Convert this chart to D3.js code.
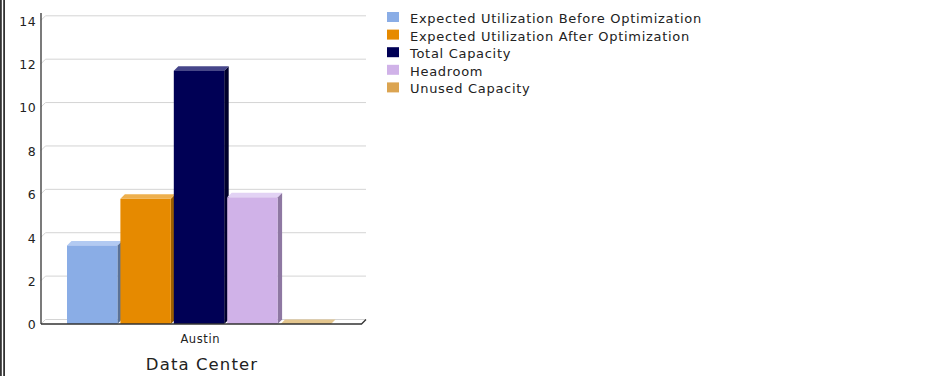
<!DOCTYPE html>
<html>
<head>
<meta charset="utf-8">
<script src="https://cdn.jsdelivr.net/npm/d3@7"></script>
<style>
  html, body { margin: 0; padding: 0; background: #fff; }
  svg { display: block; font-family: "DejaVu Sans", sans-serif; }
</style>
</head>
<body>
<div id="chart"></div>
<script>
(function () {
    // data
    const categories = ["Austin"];
    const seriesNames = [
        "Expected Utilization Before Optimization",
        "Expected Utilization After Optimization",
        "Total Capacity",
        "Headroom",
        "Unused Capacity"
    ];
    const seriesValues = [3.62, 5.77, 11.68, 5.84, 0];
    const yTicks = [0, 2, 4, 6, 8, 10, 12, 14];

    // colours: front, top, side
    const colors = ["#8aade6", "#e68a00", "#000055", "#d0b2e8", "#dba451"];
    const topColors = ["#b2caf2", "#eeb04e", "#46468a", "#e2d2f4", "#e4c68e"];
    const sideColors = ["#5a7298", "#9c5e00", "#00002c", "#8e78a2", "#a07a3c"];

    const width = 939, height = 376;
    const depthX = 4.5, depthY = 4.5;

    const svg = d3.select("#chart").append("svg")
        .attr("width", width)
        .attr("height", height);

    // double border on the left edge
    svg.append("rect").attr("x", 0).attr("y", 0).attr("width", 1.8).attr("height", height).attr("fill", "#333");
    svg.append("rect").attr("x", 3.2).attr("y", 0).attr("width", 1.8).attr("height", height).attr("fill", "#333");

    const plotLeft = 41, plotRight = 361.5;
    const y = d3.scaleLinear().domain([0, 14]).range([324, 20.3]);

    const x0 = d3.scaleBand().domain(categories).range([plotLeft, plotRight]);
    const x1 = d3.scaleBand().domain(seriesNames)
        .range([x0("Austin") + 26, x0("Austin") + x0.bandwidth() - 27.5]);

    // gridlines on back wall
    const grid = svg.append("g");
    yTicks.forEach(function (t) {
        grid.append("path")
            .attr("d", "M" + plotLeft + "," + y(t) +
                "L" + (plotLeft + depthX) + "," + (y(t) - depthY) +
                "L" + (plotRight + depthX) + "," + (y(t) - depthY))
            .attr("fill", "none")
            .attr("stroke", "#d4d4d4")
            .attr("stroke-width", 1);
    });

    // bars
    const barW = x1.step() - 3;
    const bars = svg.append("g").selectAll("g")
        .data(seriesValues)
        .enter().append("g");

    bars.each(function (v, i) {
        const g = d3.select(this);
        const bx = x1(seriesNames[i]);
        const by = y(v), b0 = y(0);
        // side
        if (v > 0) {
            g.append("path")
                .attr("d", "M" + (bx + barW) + "," + by +
                    "L" + (bx + barW + depthX) + "," + (by - depthY) +
                    "L" + (bx + barW + depthX) + "," + (b0 - depthY) +
                    "L" + (bx + barW) + "," + b0 + "Z")
                .attr("fill", sideColors[i]);
        }
        // top
        g.append("path")
            .attr("d", "M" + bx + "," + by +
                "L" + (bx + depthX) + "," + (by - depthY) +
                "L" + (bx + barW + depthX) + "," + (by - depthY) +
                "L" + (bx + barW) + "," + by + "Z")
            .attr("fill", topColors[i]);
        // front
        if (v > 0) {
            g.append("rect")
                .attr("x", bx)
                .attr("y", by)
                .attr("width", barW)
                .attr("height", b0 - by)
                .attr("fill", colors[i]);
        }
    });

    // axes lines
    svg.append("line")
        .attr("x1", plotLeft).attr("x2", plotLeft)
        .attr("y1", 13).attr("y2", y(0))
        .attr("stroke", "#333").attr("stroke-width", 1.3);
    svg.append("path")
        .attr("d", "M" + plotLeft + "," + y(0) + "L" + plotRight + "," + y(0) +
            "L" + (plotRight + depthX) + "," + (y(0) - depthY))
        .attr("fill", "none")
        .attr("stroke", "#333").attr("stroke-width", 1.3);

    // y tick labels
    svg.append("g").selectAll("text")
        .data(yTicks)
        .enter().append("text")
        .attr("x", 36)
        .attr("y", d => y(d) + 1)
        .attr("dy", "0.35em")
        .attr("text-anchor", "end")
        .attr("font-size", 12.5)
        .attr("letter-spacing", 0.4)
        .attr("fill", "#222")
        .text(d => d);

    // category label
    svg.append("text")
        .attr("x", x0("Austin") + x0.bandwidth() / 2 - 1)
        .attr("y", 339)
        .attr("dy", "0.35em")
        .attr("text-anchor", "middle")
        .attr("font-size", 11.5)
        .attr("letter-spacing", 0.6)
        .attr("fill", "#222")
        .text(categories[0]);

    // axis title
    svg.append("text")
        .attr("x", 202)
        .attr("y", 364)
        .attr("dy", "0.35em")
        .attr("text-anchor", "middle")
        .attr("font-size", 16.5)
        .attr("letter-spacing", 1.1)
        .attr("fill", "#222")
        .text("Data Center");

    // legend
    const legend = svg.append("g").selectAll("g")
        .data(seriesNames)
        .enter().append("g")
        .attr("transform", (d, i) => "translate(387," + (19 + i * 17.6) + ")");

    legend.append("rect")
        .attr("x", 0)
        .attr("y", -7)
        .attr("width", 12)
        .attr("height", 10)
        .attr("fill", (d, i) => colors[i]);

    legend.append("text")
        .attr("x", 23)
        .attr("y", 0)
        .attr("dy", "0.3em")
        .attr("font-size", 13)
        .attr("letter-spacing", 0.7)
        .attr("fill", "#222")
        .text(d => d);
})();
</script>
</body>
</html>
